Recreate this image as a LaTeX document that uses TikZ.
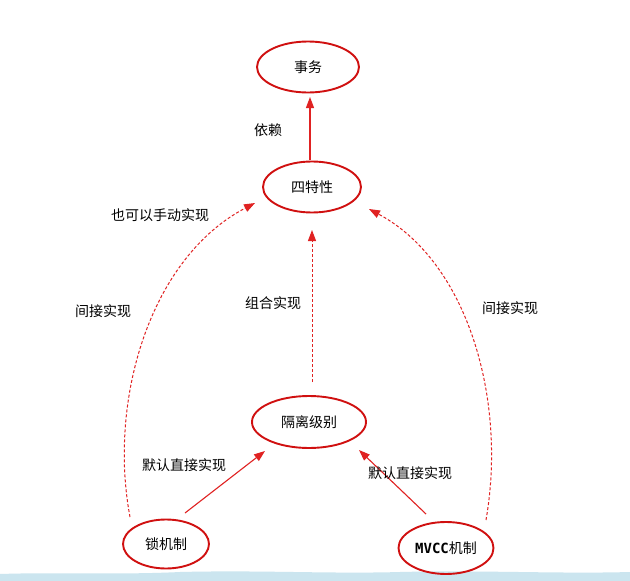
\documentclass[tikz,border=0pt]{standalone}
\usepackage{fontspec}
\setmainfont{Noto Sans CJK SC}
\newfontfamily\monof{DejaVu Sans Mono}
\usetikzlibrary{arrows.meta,shapes.geometric}
\definecolor{ered}{HTML}{D01010}
\definecolor{ared}{HTML}{E02222}
\definecolor{wave}{HTML}{CBE5EF}
\tikzset{
  ell/.style={draw=ered, line width=1.9pt, ellipse, minimum width=#1, minimum height=51pt, inner sep=0pt, font=\fontsize{14}{16}\selectfont, text=black},
  conn/.style={draw=ared, line width=1.1pt, -{Triangle[length=11pt,width=8pt]}},
  dconn/.style={conn, line width=1pt, dash pattern=on 3pt off 2pt},
  lbl/.style={font=\fontsize{14}{16}\selectfont, text=black, inner sep=0pt},
}
\begin{document}
\begin{tikzpicture}[x=1pt,y=-1pt]
\useasboundingbox (0,0) rectangle (630,581);
\fill[white] (0,0) rectangle (630,581);
\fill[wave] (0,581) -- (0,574) .. controls (60,572) and (120,575) .. (180,572) .. controls (260,570) and (330,574) .. (400,572) .. controls (480,570) and (560,574) .. (630,572) -- (630,581) -- cycle;

\node[ell=102pt] (sw) at (308,67) {事务};
\node[ell=98pt] (tx) at (312,187) {四特性};
\node[ell=114pt, minimum height=52pt] (gl) at (309,422) {隔离级别};
\node[ell=86pt, minimum height=49pt] (sj) at (166,544) {锁机制};
\node[ell=95pt, minimum height=52pt] (mv) at (446,548) {{\monof\bfseries MVCC}机制};

\coordinate (a1) at (310,160);
\coordinate (a2) at (310,97);
\draw[conn] (a1) -- (a2);
\node[lbl] (l1) at (268,130) {依赖};

\coordinate (b1) at (312,382);
\coordinate (b2) at (312,230);
\draw[dconn] (b1) -- (b2);
\node[lbl] (l2) at (273,303) {组合实现};

\coordinate (c1) at (130,517);
\coordinate (c2) at (255,203);
\draw[dconn] (c1) .. controls (108,400) and (150,258) .. (c2);
\node[lbl] (l3) at (103,311) {间接实现};
\node[lbl] (l4) at (160,215) {也可以手动实现};

\coordinate (d1) at (486,520);
\coordinate (d2) at (369,209);
\draw[dconn] (d1) .. controls (507,400) and (468,262) .. (d2);
\node[lbl] (l5) at (510,308) {间接实现};

\coordinate (e1) at (185,513);
\coordinate (e2) at (265,451);
\draw[conn] (e1) -- (e2);
\node[lbl] (l6) at (184,465) {默认直接实现};

\coordinate (f1) at (426,514);
\coordinate (f2) at (359,450);
\draw[conn] (f1) -- (f2);
\node[lbl] (l7) at (410,473) {默认直接实现};
\end{tikzpicture}
\end{document}
